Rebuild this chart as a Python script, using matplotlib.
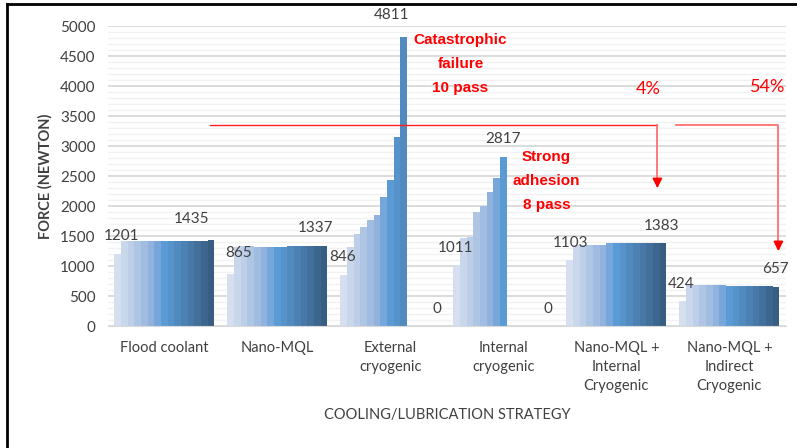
import numpy as np
import matplotlib
matplotlib.use('Agg')
import matplotlib.pyplot as plt
from matplotlib.lines import Line2D

plt.rcParams['font.family'] = ['Lato', 'DejaVu Sans']

# Categories and force values per pass
categories = ['Flood coolant', 'Nano-MQL', 'External\ncryogenic', 'Internal\ncryogenic',
              'Nano-MQL +\nInternal\nCryogenic', 'Nano-MQL +\nIndirect\nCryogenic']
flood = [1201, 1422, 1425, 1425, 1425, 1425, 1425, 1425, 1425, 1425, 1425, 1425, 1425, 1425, 1435]
nano_mql = [865, 1312, 1333, 1333, 1325, 1325, 1325, 1325, 1325, 1338, 1338, 1338, 1338, 1338, 1337]
ext_cryo = [846, 1321, 1533, 1644, 1773, 1856, 2146, 2441, 3149, 4811]
int_cryo = [1011, 1460, 1480, 1895, 2000, 2230, 2460, 2817]
nmql_int = [1103, 1354, 1354, 1354, 1354, 1354, 1380, 1380, 1380, 1380, 1380, 1380, 1380, 1380, 1383]
nmql_ind = [424, 680, 680, 680, 680, 680, 680, 665, 665, 665, 665, 665, 665, 665, 657]
groups = [flood, nano_mql, ext_cryo, int_cryo, nmql_int, nmql_ind]

n_pass = 15
colors = ['#D5DFF0', '#C9D7EC', '#BCCEE8', '#AFC5E4', '#A1BCE1', '#90B2DD', '#77A7DA',
          '#5B9BD5', '#5693CA', '#518ABF', '#4C81B3', '#4778A7', '#426F9B', '#3D668F', '#385D83']

# Data labels: (text, x, y) in data coords
labels = [('1201', -0.38, 1500), ('1435', 0.24, 1780), ('865', 0.66, 1210), ('1337', 1.34, 1630),
          ('846', 1.575, 1150), ('4811', 2.01, 5180), ('0', 2.41, 280), ('1011', 2.58, 1300),
          ('2817', 3.0, 3120), ('0', 3.39, 280), ('1103', 3.59, 1380), ('1383', 4.40, 1660),
          ('424', 4.575, 700), ('657', 5.41, 950)]

fig = plt.figure(figsize=(7.97, 4.48), dpi=100)
ax = fig.add_axes([0.1355, 0.2723, 0.8505, 0.6696])

x = np.arange(len(categories))
w = 0.885 / n_pass
for g, vals in enumerate(groups):
    for i, v in enumerate(vals):
        ax.bar(x[g] + (i - 7) * w, v, width=w, color=colors[i], linewidth=0, zorder=2)

ax.set_xlim(-0.5, 5.5)
ax.set_ylim(0, 5000)
ax.set_yticks(np.arange(0, 5001, 500))
ax.set_yticks(np.arange(0, 5001, 100), minor=True)
ax.grid(axis='y', which='major', color='#D9D9D9', linewidth=1.3, zorder=0)
ax.grid(axis='y', which='minor', color='#F2F2F2', linewidth=1.0, zorder=0)
ax.set_axisbelow(True)
for s in ['top', 'right', 'left']:
    ax.spines[s].set_visible(False)
ax.spines['bottom'].set_color('#D9D9D9')
ax.tick_params(axis='both', which='both', length=0, labelsize=11, labelcolor='#404040')
ax.tick_params(axis='y', pad=9)
ax.set_xticks(x)
ax.set_xticklabels(categories, fontsize=10.5, color='#404040', linespacing=1.45)
ax.tick_params(axis='x', pad=11)
ax.set_xlabel('COOLING/LUBRICATION STRATEGY', fontsize=10.5, color='#404040', labelpad=11)
ax.set_ylabel('FORCE (NEWTON)', fontsize=10.5, color='#404040', fontweight='bold', labelpad=5)

for t, lx, ly in labels:
    ax.text(lx, ly, t, ha='center', va='center', fontsize=11, color='#404040', clip_on=False)

# red annotations
red_kw = dict(ha='center', va='center', color='red', fontsize=11, fontweight='bold', family='Liberation Sans')
ax.text(2.62, 4760, 'Catastrophic', **red_kw)
ax.text(2.62, 4370, 'failure', **red_kw)
ax.text(2.62, 3970, '10 pass', **red_kw)
ax.text(3.38, 2820, 'Strong', **red_kw)
ax.text(3.38, 2420, 'adhesion', **red_kw)
ax.text(3.38, 2020, '8 pass', **red_kw)
ax.text(4.28, 3950, '4%', ha='center', va='center', color='red', fontsize=13)
ax.text(5.34, 3980, '54%', ha='center', va='center', color='red', fontsize=13)

# connector lines with arrows
ax.plot([0.407, 4.363], [3344, 3344], color='#FF2020', linewidth=1.0, zorder=3)
ax.plot([4.363, 4.363], [3344, 2350], color='#FF7070', linewidth=1.3, zorder=3)
ax.annotate('', xy=(4.363, 2250), xytext=(4.363, 2420),
            arrowprops=dict(arrowstyle='-|>', color='red', lw=1.3, mutation_scale=14))
ax.plot([4.531, 5.434, 5.434], [3344, 3344, 1300], color='#FF7070', linewidth=1.3, zorder=3, clip_on=False)
ax.annotate('', xy=(5.434, 1200), xytext=(5.434, 1370),
            arrowprops=dict(arrowstyle='-|>', color='red', lw=1.3, mutation_scale=14))

# outer frame (left and top edges)
fig.add_artist(Line2D([0.009, 0.009], [0, 0.991], color='black', linewidth=2))
fig.add_artist(Line2D([0.009, 1.0], [0.991, 0.991], color='black', linewidth=2))

fig.savefig('out.png', dpi=100)
